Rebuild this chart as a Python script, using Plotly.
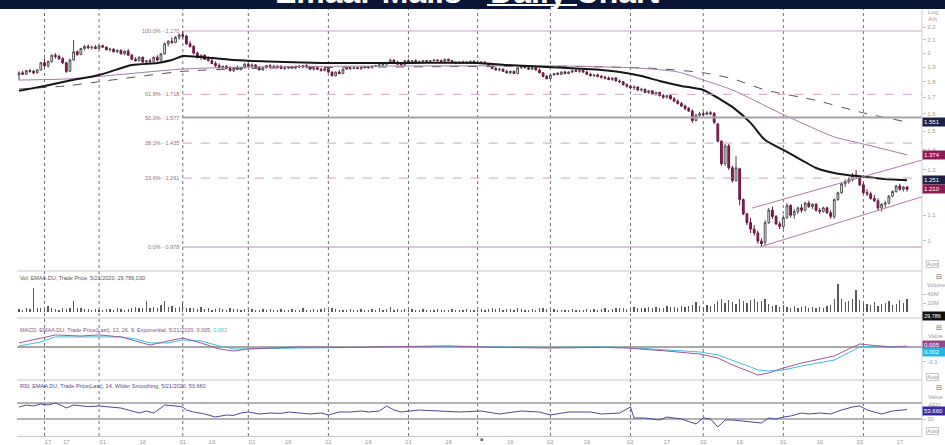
import numpy as np
import plotly.graph_objects as go
from plotly.subplots import make_subplots

# ---------------- DATA ----------------
open_ = [
 1.845,1.860,1.850,1.875,1.870,1.860,1.880,1.930,1.910,1.940,
 1.985,1.975,1.960,1.930,1.870,1.950,2.010,1.990,2.035,2.050,
 2.040,2.045,2.035,2.055,2.045,2.025,2.030,2.010,2.020,1.995,
 2.015,1.985,1.955,1.945,1.970,1.935,1.945,1.940,1.970,1.950,
 1.995,2.070,2.090,2.080,2.120,2.140,2.130,2.070,2.050,2.000,
 1.970,1.985,1.955,1.945,1.925,1.910,1.895,1.905,1.890,1.875,
 1.895,1.885,1.895,1.920,1.905,1.915,1.895,1.880,1.895,1.910,
 1.900,1.905,1.900,1.890,1.895,1.900,1.895,1.905,1.900,1.910,
 1.900,1.885,1.895,1.885,1.875,1.890,1.865,1.840,1.865,1.855,
 1.885,1.895,1.890,1.895,1.890,1.895,1.900,1.895,1.905,1.910,
 1.915,1.920,1.925,1.950,1.935,1.920,1.915,1.945,1.925,1.945,
 1.930,1.940,1.945,1.940,1.945,1.950,1.945,1.940,1.955,1.945,
 1.930,1.925,1.935,1.930,1.935,1.940,1.935,1.930,1.935,1.925,
 1.905,1.890,1.880,1.885,1.870,1.860,1.870,1.855,1.895,1.905,
 1.895,1.885,1.895,1.880,1.860,1.835,1.820,1.845,1.855,1.850,
 1.865,1.855,1.865,1.875,1.870,1.875,1.865,1.850,1.840,1.845,
 1.835,1.830,1.825,1.815,1.825,1.805,1.800,1.780,1.770,1.760,
 1.765,1.745,1.750,1.730,1.740,1.720,1.730,1.710,1.700,1.710,
 1.690,1.675,1.660,1.645,1.630,1.615,1.560,1.590,1.600,1.595,
 1.605,1.600,1.540,1.445,1.330,1.420,1.310,1.250,1.305,1.165,
 1.105,1.070,1.045,1.030,1.000,0.995,1.070,1.120,1.095,1.065,
 1.055,1.090,1.140,1.100,1.115,1.130,1.120,1.150,1.135,1.145,
 1.120,1.115,1.130,1.110,1.095,1.165,1.195,1.235,1.245,1.255,
 1.275,1.270,1.230,1.195,1.190,1.170,1.160,1.130,1.145,1.150,
 1.180,1.200,1.225,1.210,1.220]
high = [
 1.870,1.875,1.880,1.885,1.880,1.885,1.935,1.960,1.945,1.990,
 2.000,1.990,1.970,1.935,1.960,2.100,2.020,2.040,2.060,2.065,
 2.055,2.060,2.060,2.065,2.050,2.040,2.035,2.030,2.030,2.020,
 2.030,1.995,1.970,1.975,1.975,1.950,1.960,1.975,1.985,2.000,
 2.080,2.100,2.120,2.130,2.150,2.170,2.140,2.090,2.060,2.010,
 1.990,1.990,1.975,1.960,1.940,1.925,1.910,1.915,1.905,1.900,
 1.910,1.900,1.930,1.925,1.925,1.920,1.905,1.900,1.915,1.920,
 1.915,1.915,1.915,1.900,1.905,1.910,1.910,1.915,1.915,1.920,
 1.910,1.900,1.905,1.895,1.895,1.895,1.870,1.870,1.880,1.890,
 1.900,1.900,1.905,1.900,1.900,1.905,1.905,1.910,1.915,1.920,
 1.925,1.930,1.960,1.955,1.945,1.930,1.950,1.955,1.950,1.955,
 1.945,1.950,1.950,1.950,1.955,1.955,1.955,1.960,1.960,1.950,
 1.940,1.940,1.945,1.940,1.945,1.950,1.945,1.940,1.940,1.930,
 1.910,1.900,1.895,1.890,1.880,1.875,1.875,1.900,1.910,1.915,
 1.900,1.900,1.900,1.890,1.865,1.845,1.850,1.860,1.865,1.870,
 1.875,1.870,1.880,1.885,1.880,1.880,1.875,1.860,1.850,1.855,
 1.845,1.840,1.835,1.830,1.830,1.815,1.805,1.790,1.780,1.775,
 1.770,1.760,1.755,1.745,1.745,1.735,1.735,1.720,1.715,1.715,
 1.700,1.685,1.670,1.655,1.640,1.625,1.600,1.610,1.610,1.615,
 1.615,1.610,1.545,1.450,1.430,1.430,1.320,1.370,1.310,1.170,
 1.110,1.090,1.060,1.040,1.010,1.080,1.130,1.135,1.100,1.075,
 1.100,1.150,1.145,1.125,1.135,1.145,1.155,1.160,1.150,1.150,
 1.130,1.135,1.135,1.120,1.170,1.200,1.240,1.255,1.265,1.285,
 1.300,1.275,1.240,1.210,1.200,1.185,1.170,1.150,1.160,1.185,
 1.205,1.230,1.235,1.225,1.225]
low = [
 1.810,1.845,1.845,1.860,1.850,1.855,1.875,1.900,1.895,1.930,
 1.960,1.950,1.920,1.860,1.865,1.945,1.980,1.985,2.020,2.030,
 2.025,2.030,2.030,2.040,2.020,2.010,2.005,2.000,1.990,1.985,
 1.980,1.950,1.940,1.940,1.930,1.920,1.930,1.935,1.940,1.945,
 1.990,2.050,2.070,2.075,2.100,2.110,2.060,2.040,1.990,1.960,
 1.950,1.950,1.940,1.920,1.900,1.890,1.880,1.885,1.870,1.865,
 1.880,1.875,1.890,1.900,1.895,1.890,1.875,1.875,1.890,1.895,
 1.890,1.895,1.885,1.880,1.885,1.890,1.885,1.895,1.890,1.895,
 1.880,1.875,1.880,1.870,1.870,1.860,1.835,1.835,1.850,1.850,
 1.880,1.880,1.885,1.885,1.880,1.890,1.890,1.890,1.900,1.905,
 1.905,1.910,1.920,1.930,1.915,1.910,1.910,1.920,1.920,1.925,
 1.925,1.935,1.935,1.935,1.940,1.940,1.935,1.935,1.940,1.925,
 1.920,1.920,1.925,1.920,1.930,1.930,1.925,1.925,1.920,1.900,
 1.885,1.875,1.870,1.865,1.855,1.850,1.850,1.850,1.885,1.890,
 1.880,1.880,1.875,1.855,1.830,1.815,1.815,1.840,1.845,1.845,
 1.850,1.850,1.860,1.865,1.860,1.860,1.845,1.835,1.830,1.830,
 1.820,1.815,1.810,1.805,1.800,1.790,1.775,1.760,1.750,1.745,
 1.740,1.735,1.725,1.720,1.715,1.710,1.705,1.690,1.690,1.685,
 1.670,1.655,1.640,1.620,1.610,1.545,1.555,1.580,1.585,1.590,
 1.590,1.540,1.440,1.320,1.320,1.300,1.240,1.245,1.140,1.100,
 1.060,1.030,1.020,0.990,0.978,0.985,1.065,1.085,1.060,1.045,
 1.045,1.085,1.090,1.085,1.105,1.110,1.115,1.130,1.125,1.115,
 1.105,1.110,1.105,1.085,1.085,1.160,1.190,1.220,1.235,1.245,
 1.260,1.225,1.190,1.180,1.165,1.155,1.120,1.115,1.130,1.145,
 1.175,1.195,1.205,1.200,1.200]
close = [
 1.860,1.850,1.875,1.870,1.860,1.880,1.930,1.910,1.940,1.985,
 1.975,1.960,1.930,1.870,1.950,2.010,1.990,2.035,2.050,2.040,
 2.045,2.035,2.055,2.045,2.025,2.030,2.010,2.020,1.995,2.015,
 1.985,1.955,1.945,1.970,1.935,1.945,1.940,1.970,1.950,1.995,
 2.070,2.090,2.080,2.120,2.140,2.130,2.070,2.050,2.000,1.970,
 1.985,1.955,1.945,1.925,1.910,1.895,1.905,1.890,1.875,1.895,
 1.885,1.895,1.920,1.905,1.915,1.895,1.880,1.895,1.910,1.900,
 1.905,1.900,1.890,1.895,1.900,1.895,1.905,1.900,1.910,1.900,
 1.885,1.895,1.885,1.875,1.890,1.865,1.840,1.865,1.855,1.885,
 1.895,1.890,1.895,1.890,1.895,1.900,1.895,1.905,1.910,1.915,
 1.920,1.925,1.950,1.935,1.920,1.915,1.945,1.925,1.945,1.930,
 1.940,1.945,1.940,1.945,1.950,1.945,1.940,1.955,1.945,1.930,
 1.925,1.935,1.930,1.935,1.940,1.935,1.930,1.935,1.925,1.905,
 1.890,1.880,1.885,1.870,1.860,1.870,1.855,1.895,1.905,1.895,
 1.885,1.895,1.880,1.860,1.835,1.820,1.845,1.855,1.850,1.865,
 1.855,1.865,1.875,1.870,1.875,1.865,1.850,1.840,1.845,1.835,
 1.830,1.825,1.815,1.825,1.805,1.800,1.780,1.770,1.760,1.765,
 1.745,1.750,1.730,1.740,1.720,1.730,1.710,1.700,1.710,1.690,
 1.675,1.660,1.645,1.630,1.615,1.560,1.590,1.600,1.595,1.605,
 1.600,1.550,1.445,1.330,1.420,1.310,1.250,1.310,1.165,1.105,
 1.070,1.045,1.030,1.000,0.990,1.070,1.120,1.095,1.065,1.055,
 1.090,1.140,1.100,1.115,1.130,1.120,1.150,1.135,1.145,1.120,
 1.115,1.130,1.110,1.095,1.165,1.195,1.235,1.245,1.255,1.275,
 1.270,1.230,1.195,1.190,1.170,1.160,1.130,1.145,1.150,1.180,
 1.200,1.225,1.210,1.220,1.210]
volume_m = [
 7,5,9,6,53,8,10,6,14,9,7,5,8,6,9,
 25,10,8,6,7,5,6,4,5,7,6,5,8,6,5,
 7,9,11,8,10,24,9,12,8,15,24,11,13,9,12,
 20,10,8,9,7,11,6,8,5,7,9,6,5,8,7,
 6,5,7,4,6,5,4,7,5,6,4,5,7,4,5,
 6,4,5,8,5,4,6,5,7,9,5,8,6,5,4,
 5,6,4,5,7,4,5,6,4,8,5,6,11,5,6,
 4,7,5,6,4,5,6,4,5,4,6,5,4,5,6,
 4,5,4,6,5,4,5,6,4,7,8,6,9,5,6,
 7,5,10,6,5,4,6,5,8,9,7,5,6,4,5,
 5,4,6,5,4,5,6,5,7,5,6,8,5,7,9,
 8,10,7,9,12,8,10,9,11,8,12,10,9,13,11,
 12,10,14,11,13,15,22,14,12,16,13,18,24,30,20,
 26,22,18,28,24,20,26,30,22,25,28,18,14,16,12,
 15,12,10,13,9,11,14,10,12,9,11,10,13,15,30,
 62,28,22,24,30,49,26,20,18,16,22,14,18,20,24,
 16,18,27,20,29.8]

# moving averages (at sample bars)
ema_x = [0,7,14,22,31,38,42,45,50,59,83,107,126,134,145,160,165,171,176,182,188,193,196,201,205,210,215,219,224,228,232,237,244]
ema_v = [1.740,1.772,1.808,1.845,1.914,1.929,1.950,1.979,1.971,1.950,1.929,1.929,1.929,1.914,1.900,1.879,1.866,1.838,1.805,1.772,1.746,1.682,1.640,1.546,1.451,1.399,1.348,1.309,1.285,1.275,1.268,1.258,1.251]
ma100_x = [0,13,22,45,63,100,150,170,181,188,196,209,224,231,244]
ma100_v = [1.811,1.818,1.835,1.886,1.900,1.907,1.907,1.893,1.866,1.811,1.746,1.604,1.468,1.435,1.374]
ma200_x = [0,13,22,45,63,100,150,175,188,196,205,219,232,244]
ma200_v = [1.752,1.772,1.800,1.870,1.890,1.900,1.905,1.890,1.860,1.820,1.746,1.680,1.604,1.551]

# Fibonacci retracement
fib_names = ["100.0%", "61.8%", "50.0%", "38.2%", "23.6%", "0.0%"]
fib_levels = [2.170, 1.718, 1.577, 1.435, 1.261, 0.978]
fib_start = 45

# channel
chan_up_x = [201.4, 248.1]
chan_up_y = [1.129, 1.348]
chan_lo_x = [203.6, 248.1]
chan_lo_y = [0.978, 1.177]

# MACD (12,26,9)
macd_x = [0,6,10,17,22,28,32,36,41,45,50,55,59,63,77,91,105,118,132,146,160,167,178,187,192,196,201,203,206,210,215,224,228,231,236,239,244]
macd_v = [0.027,0.060,0.080,0.073,0.080,0.067,0.040,0.013,0.040,0.060,0.027,-0.013,-0.027,-0.013,0.000,-0.003,0.003,0.007,-0.003,-0.007,-0.003,-0.007,-0.027,-0.047,-0.073,-0.120,-0.167,-0.187,-0.173,-0.140,-0.107,-0.060,-0.013,0.020,0.007,0.000,0.005]
signal_v = [0.007,0.033,0.067,0.067,0.067,0.067,0.053,0.027,0.027,0.047,0.040,0.007,-0.013,-0.013,-0.007,-0.003,0.000,0.003,0.000,-0.003,0.000,-0.003,-0.020,-0.033,-0.053,-0.087,-0.133,-0.153,-0.160,-0.153,-0.127,-0.087,-0.040,0.000,0.007,0.003,0.002]

# RSI (14)
rsi_x = [0,2,4,6,8,10,12,13,15,17,19,22,25,28,30,33,35,37,39,40,43,45,46,48,51,54,57,59,61,63,66,69,72,74,77,80,83,85,88,91,94,96,99,101,103,105,110,116,121,127,132,138,143,146,151,157,160,165,168,169,172,176,178,182,186,188,190,192,194,196,199,204,206,208,210,212,215,217,220,223,226,229,231,233,237,240,244]
rsi_v = [60,65,62.5,67.5,65,70,62.5,57.5,65,62.5,61,62.5,60,57.5,52.5,45,50,45,57.5,65,62.5,60,52.5,47.5,42.5,35,40,39,45,47.5,42.5,45,44,47.5,45,42.5,45,40,47.5,47.5,50,47.5,50,62.5,52.5,47.5,52.5,50,47.5,50,42.5,50,47.5,40,47.5,47.5,42.5,45,60,32.5,32.5,27.5,35,30,17.5,32.5,30,10,27.5,27.5,25,20,32.5,30,35,37.5,45,42.5,45,42.5,52.5,60,62.5,52.5,42.5,50,53.66]

# time axis
month_starts = [7, 22, 45, 63, 85, 107, 126, 146, 168, 188, 210, 232]
tick_pos = [8, 13, 23, 34, 45, 53, 64, 74, 85, 96, 107, 118, 135, 146, 156, 168, 178, 188, 198, 210, 220, 231, 242]
tick_txt = ["17", "17", "01", "16", "01", "16", "02", "16", "01", "16", "01", "16",
            "16", "02", "16", "02", "17", "02", "16", "01", "16", "03", "17"]

price_ticks = [1.0, 1.1, 1.3, 1.4, 1.5, 1.6, 1.7, 1.8, 1.9, 2.0, 2.1, 2.2]

assert len(open_) == len(high) == len(low) == len(close) == len(volume_m)
assert len(macd_x) == len(macd_v) == len(signal_v)
assert len(rsi_x) == len(rsi_v)

# ---------------- FIGURE ----------------
N = len(close)
idx = list(range(N))
X_LEFT, X_RIGHT = -0.55, 248.1
W, H = 945, 445
ML, MR, MT, MB = 17, 23, 9, 9
PW, PH = W - ML - MR, H - MT - MB


def px(x):
    return (x - ML) / PW


def py(y):
    return (H - MB - y) / PH


FONT = "Liberation Sans"
GRAY = "#a0a0a0"

fig = make_subplots(rows=4, cols=1, shared_xaxes=True, vertical_spacing=0)

fig.add_trace(go.Candlestick(
    x=idx, open=open_, high=high, low=low, close=close,
    increasing=dict(line=dict(color="#4d4d4d", width=1), fillcolor="#ffffff"),
    decreasing=dict(line=dict(color="#6a1742", width=1), fillcolor="#8a2456"),
    whiskerwidth=0), row=1, col=1)

fig.add_trace(go.Scatter(x=ma200_x, y=ma200_v, mode="lines", line_shape="spline",
                         line=dict(color="#555555", width=1, dash="dash", smoothing=0.6)), row=1, col=1)
fig.add_trace(go.Scatter(x=ma100_x, y=ma100_v, mode="lines", line_shape="spline",
                         line=dict(color="#a77aa2", width=1, smoothing=0.6)), row=1, col=1)
fig.add_trace(go.Scatter(x=ema_x, y=ema_v, mode="lines", line_shape="spline",
                         line=dict(color="#161616", width=2, smoothing=0.6)), row=1, col=1)

ann = []

fib_colors = ["#c8a6c4", "#c8a6c4", "#a99fab", "#c8a6c4", "#c8a6c4", "#b98fb3"]
fib_dash = ["solid", "dash", "solid", "dash", "dash", "solid"]
fib_width = [1, 1, 2, 1, 1, 1]
for name, lvl, c, d, w in zip(fib_names, fib_levels, fib_colors, fib_dash, fib_width):
    fig.add_trace(go.Scatter(x=[fib_start, X_RIGHT], y=[lvl, lvl], mode="lines",
                             line=dict(color=c, width=w, dash=d)), row=1, col=1)
    ann.append(dict(x=fib_start - 0.4, y=float(np.log10(lvl)), xref="x", yref="y",
                    text=f"{name} - {lvl:.3f}", showarrow=False, xanchor="right",
                    yanchor="middle", font=dict(size=5.5, color="#8d6f8b", family=FONT)))

fig.add_trace(go.Scatter(x=chan_up_x, y=chan_up_y, mode="lines",
                         line=dict(color="#b07aa8", width=1)), row=1, col=1)
fig.add_trace(go.Scatter(x=chan_lo_x, y=chan_lo_y, mode="lines",
                         line=dict(color="#b07aa8", width=1)), row=1, col=1)

fig.add_trace(go.Bar(x=idx, y=volume_m, width=0.35,
                     marker=dict(color="#5a5a5a", line=dict(width=0))), row=2, col=1)

fig.add_trace(go.Scatter(x=macd_x, y=signal_v, mode="lines",
                         line=dict(color="#3cc0e0", width=1)), row=3, col=1)
fig.add_trace(go.Scatter(x=macd_x, y=macd_v, mode="lines",
                         line=dict(color="#9a5a9a", width=1)), row=3, col=1)

fig.add_trace(go.Scatter(x=rsi_x, y=rsi_v, mode="lines",
                         line=dict(color="#4a4a96", width=1)), row=4, col=1)

# axes
for i in range(1, 5):
    fig.update_xaxes(range=[X_LEFT, X_RIGHT], showgrid=False, zeroline=False,
                     showticklabels=False, ticks="", automargin=False, row=i, col=1)
fig.update_xaxes(rangeslider_visible=False, row=1, col=1)
fig.update_xaxes(showticklabels=True, tickmode="array", tickvals=tick_pos, ticktext=tick_txt,
                 tickfont=dict(size=6, color="#9c9c9c", family=FONT),
                 showline=True, linecolor="#c8c8c8", linewidth=1, row=4, col=1)

yfont = dict(size=6, color=GRAY, family=FONT)
d_main = py(271)
d_vol = py(318)
d_macd = py(380)
ycommon = dict(side="right", tickmode="array", tickfont=yfont, ticks="outside", ticklen=3,
               tickcolor="#c0c0c0", showgrid=False, zeroline=False, automargin=False)
fig.update_layout(
    yaxis=dict(domain=[d_main, 1.0], type="log", range=[-0.04812, 0.37176],
               tickvals=price_ticks, ticktext=[f"{v:g}" for v in price_ticks], **ycommon),
    yaxis2=dict(domain=[d_vol, d_main], range=[-13.3, 91.1],
                tickvals=[20, 40], ticktext=["20M", "40M"], **ycommon),
    yaxis3=dict(domain=[d_macd, d_vol], range=[-0.22, 0.193],
                tickvals=[-0.1], ticktext=["-0.1"], **ycommon),
    yaxis4=dict(domain=[0, d_macd], range=[-12.5, 127.5],
                tickvals=[30], ticktext=["30"], **ycommon),
)

shapes = []
for m in month_starts:
    shapes.append(dict(type="line", xref="x", yref="paper", x0=m, x1=m, y0=0, y1=1,
                       line=dict(color="#707070", width=1, dash="dot"), layer="below"))
for yy in [d_main, d_vol, d_macd]:
    shapes.append(dict(type="line", xref="paper", yref="paper", x0=0, x1=1, y0=yy, y1=yy,
                       line=dict(color="#c8c8c8", width=1)))
shapes.append(dict(type="line", xref="paper", yref="paper", x0=1, x1=1, y0=0, y1=1,
                   line=dict(color="#d0d0d0", width=1)))
shapes.append(dict(type="line", xref="paper", yref="y3", x0=0, x1=1, y0=0, y1=0,
                   line=dict(color="#8c8c8c", width=1.5), layer="below"))
for lv in [70, 30]:
    shapes.append(dict(type="line", xref="paper", yref="y4", x0=0, x1=1, y0=lv, y1=lv,
                       line=dict(color="#9a9a9a", width=1.5), layer="below"))
# title band
shapes.append(dict(type="rect", xref="paper", yref="paper", x0=px(0) - 0.01, x1=px(W) + 0.01,
                   y0=py(9), y1=py(-5), fillcolor="#0b1535", line=dict(width=0), layer="below"))
shapes.append(dict(type="line", xref="paper", yref="paper", x0=px(487), x1=px(577),
                   y0=py(5), y1=py(5), line=dict(color="#ffffff", width=2)))

ann.append(dict(text="<b>Emaar Malls - Daily Chart</b>", x=px(467), y=py(-8), xref="paper",
                yref="paper", xanchor="center", yanchor="middle", showarrow=False,
                font=dict(size=32, color="#ffffff", family=FONT)))


def small(text, x, y, color=GRAY, size=6, anchor="left", **kw):
    d = dict(text=text, x=px(x), y=py(y), xref="paper", yref="paper", xanchor=anchor,
             yanchor="middle", showarrow=False, font=dict(size=size, color=color, family=FONT))
    d.update(kw)
    ann.append(d)


def tag(text, y, bg, yref="paper", size=6):
    yy = py(y) if yref == "paper" else y
    ann.append(dict(text=text, x=1.0, y=yy, xref="paper", yref=yref, xanchor="left",
                    yanchor="middle", showarrow=False, bgcolor=bg, borderpad=1, width=20,
                    align="left", font=dict(size=size, color="#ffffff", family=FONT)))


small("Vol, EMAA.DU, Trade Price, 5/21/2020, 29,786,030", 18, 278, color="#555555", size=5.5)
small("MACD, EMAA.DU, Trade Price(Last), 12, 26, 9, Exponential, 5/21/2020, 0.005, "
      "<span style='color:#3cc0e0'>0.002</span>", 18, 330, color="#8a4f8a", size=5.5)
small("RSI, EMAA.DU, Trade Price(Last), 14, Wilder Smoothing, 5/21/2020, 53.660",
      18, 386, color="#4a4a96", size=5.5)

small("Log", 926, 12)
small("Arit", 926, 19)
small("Auto", 926, 264, size=5.5, bordercolor="#c8c8c8", borderwidth=1, borderpad=0)
small("⊟", 934, 276, color="#666666", size=7)
small("Volume", 925, 285, size=5.5)
small("⊟", 934, 327, color="#666666", size=7)
small("Value", 926, 336)
small("Auto", 926, 377, size=5.5, bordercolor="#c8c8c8", borderwidth=1, borderpad=0)
small("⊟", 934, 387, color="#666666", size=7)
small("Value", 926, 397)
small("AED", 926, 405)
small("Auto", 926, 431, size=5.5, bordercolor="#c8c8c8", borderwidth=1, borderpad=0)
small("■", 481, 439, color="#555555", size=5, anchor="center")

tag("1.551", float(np.log10(1.551)), "#1c2245", yref="y")
tag("1.374", float(np.log10(1.374)), "#8b1c55", yref="y")
tag("1.251", float(np.log10(1.251)), "#1c2245", yref="y")
tag("1.210", float(np.log10(1.210)), "#8b1c55", yref="y")
tag("29,786", 316, "#111111", size=5.5)
tag("0.005", 345, "#8e4a8e")
tag("0.002", 352, "#22b5e5")
tag("53.660", 411, "#3a2c9e")

fig.layout.shapes = shapes
fig.layout.annotations = ann

fig.update_layout(width=W, height=H, margin=dict(l=ML, r=MR, t=MT, b=MB, autoexpand=False),
                  paper_bgcolor="#ffffff", plot_bgcolor="#ffffff", showlegend=False,
                  hovermode=False, font=dict(family=FONT), bargap=0)

fig.write_html("out.html", config={"displayModeBar": False, "staticPlot": True},
               post_script="document.body.style.margin='0px';document.body.style.overflow='hidden';")
